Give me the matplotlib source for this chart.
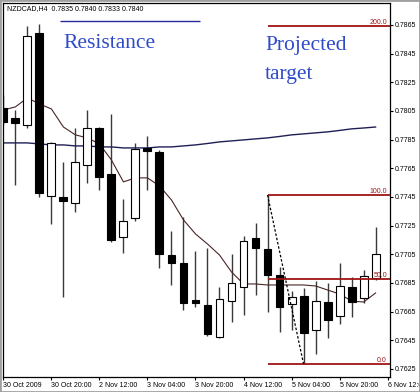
import matplotlib
matplotlib.use('Agg')
import matplotlib.pyplot as plt
from matplotlib.patches import Rectangle

# ---------------- data ----------------
title_text = "NZDCAD,H4  0.7835 0.7840 0.7833 0.7840"

opens = [.78071, .78001, .77952, .78594, .77457, .77450, .77408, .77673, .77931, .77610,
         .77171, .77303, .77792, .77764, .77045, .76990, .76731, .76697, .76473, .76724,
         .76822, .77164, .77087, .76906, .76703, .76759, .76522, .76717, .76620, .76822,
         .76745, .76885]
highs = [.78162, .78057, .78643, .78657, .77834, .77694, .77931, .78057, .77938, .78029,
         .77436, .77827, .77876, .77778, .77213, .77310, .77073, .77094, .76822, .77052,
         .77178, .77269, .77464, .76962, .76794, .76815, .76864, .76850, .76990, .76892,
         .76941, .77241]
lows = [.77952, .77534, .77931, .77450, .77262, .76752, .77345, .77548, .77499, .77136,
        .77059, .77282, .77499, .76955, .76836, .76662, .76683, .76480, .76466, .76578,
        .76627, .76766, .76648, .76508, .76522, .76285, .76355, .76466, .76564, .76613,
        .76710, .76871]
closes = [.77973, .77966, .78573, .77478, .77827, .77422, .77694, .77931, .77590, .77150,
          .77282, .77785, .77771, .77052, .76990, .76710, .76710, .76494, .76738, .76850,
          .77143, .77094, .76906, .76683, .76752, .76501, .76724, .76592, .76829, .76717,
          .76899, .77052]

ma_fast = [.78057, .78078, .78141, .78099, .78064, .77938, .77883, .77862, .77820, .77708,
           .77555, .77583, .77583, .77527, .77429, .77290, .77192, .77122, .77045, .76927,
           .76843, .76843, .76836, .76836, .76836, .76836, .76829, .76801, .76773, .76724,
           .76717, .76780]
ma_slow = [.77827, .77827, .77827, .77820, .77813, .77813, .77806, .77806, .77799, .77799,
           .77792, .77792, .77792, .77799, .77799, .77806, .77813, .77823, .77834, .77841,
           .77848, .77855, .77862, .77872, .77883, .77890, .77897, .77904, .77914, .77925,
           .77931, .77938]

x_tick_bars = [0, 4, 8, 12, 16, 20, 24, 28, 32]
x_tick_labels = ["30 Oct 2009", "30 Oct 20:00", "2 Nov 12:00", "3 Nov 04:00",
                 "3 Nov 20:00", "4 Nov 12:00", "5 Nov 04:00", "5 Nov 20:00", "6 Nov 12:00"]
y_ticks = [0.7625, 0.7645, 0.7665, 0.7685, 0.7705, 0.7725, 0.7745, 0.7765,
           0.7785, 0.7805, 0.7825, 0.7845, 0.7865]
y_tick_labels = ["%.4f" % v for v in y_ticks]

fib_start_bar = 22
fib_end_bar = 25
fib_levels = [0.0, 50.0, 100.0, 200.0]

resistance_price = 0.78678
resistance_from_bar = 4.75
resistance_to_bar = 16.4

ann_resistance = "Resistance"
ann_projected = ["Projected", "target"]

# ---------------- figure ----------------
W, H = 420, 392
fig = plt.figure(figsize=(W / 100, H / 100), dpi=100)
fig.patch.set_facecolor('white')
ax = fig.add_axes([3 / W, 1 - 377 / H, (390 - 3) / W, (377 - 3) / H])
ax.set_facecolor('white')

x_left, x_right = -0.03, 32.2
ax.set_xlim(x_left, x_right)
ax.set_ylim(0.76194, 0.78803)

body_w = 0.66
for i, (o, h, l, c) in enumerate(zip(opens, highs, lows, closes)):
    ax.vlines(i, l, h, color='#3a3a3a', lw=1.0, zorder=2)
    bull = c >= o
    bottom = min(o, c)
    height = max(abs(c - o), 0.00005)
    ax.add_patch(Rectangle((i - body_w / 2, bottom), body_w, height,
                           facecolor='white' if bull else 'black',
                           edgecolor='black', lw=0.8, zorder=3))

bars = list(range(len(closes)))
ax.plot(bars, ma_slow, color='#1f1f55', lw=1.0, zorder=2.5)
ax.plot(bars, ma_fast, color='#4a2626', lw=0.8, zorder=2.5)

# Fibonacci
fib_high = highs[fib_start_bar]
fib_low = lows[fib_end_bar]
for lvl in fib_levels:
    price = fib_low + (fib_high - fib_low) * lvl / 100.0
    ax.hlines(price, fib_start_bar, x_right, color='#a01414', lw=1.3, zorder=4)
    ax.text(31.95, price + 0.00003, "%.1f" % lvl, ha='right', va='bottom',
            fontsize=5, color='#a01414', family='Liberation Sans', zorder=5)
ax.plot([fib_start_bar, fib_end_bar], [fib_high, fib_low], color='black',
        lw=0.9, ls=(0, (2, 1.5)), zorder=4)

# Resistance line
ax.hlines(resistance_price, resistance_from_bar, resistance_to_bar,
          color='#2a2aa0', lw=1.0, zorder=4)

ax.text(4.97, 0.78490, ann_resistance, fontsize=15.5, color='#2f4bc8',
        family='Liberation Serif', va='baseline', ha='left')
ax.text(21.8, 0.78476, ann_projected[0], fontsize=15.5, color='#2f4bc8',
        family='Liberation Serif', va='baseline', ha='left')
ax.text(21.8, 0.78273, ann_projected[1], fontsize=15.5, color='#2f4bc8',
        family='Liberation Serif', va='baseline', ha='left')

fig.text(7 / W, 1 - 9 / H, title_text, fontsize=5, family='Liberation Sans',
         va='center', ha='left', color='black')

# axes
ax.yaxis.tick_right()
ax.set_yticks(y_ticks)
ax.set_yticklabels(y_tick_labels)
ax.set_xticks(x_tick_bars)
ax.set_xticklabels(x_tick_labels)
for lab in ax.get_xticklabels():
    lab.set_ha('left')
    lab.set_family('Liberation Sans')
for lab in ax.get_yticklabels():
    lab.set_family('Liberation Sans')
ax.tick_params(axis='both', labelsize=5, length=2.2, width=0.8, direction='out',
               color='black', pad=1.2)
for s in ax.spines.values():
    s.set_color('black')
    s.set_linewidth(0.9)

# window border
fig.add_artist(Rectangle((0, 0), 1, 1, transform=fig.transFigure, fill=False,
                         edgecolor='#a0a0a0', lw=2.0))

fig.savefig('out.png', dpi=100)
